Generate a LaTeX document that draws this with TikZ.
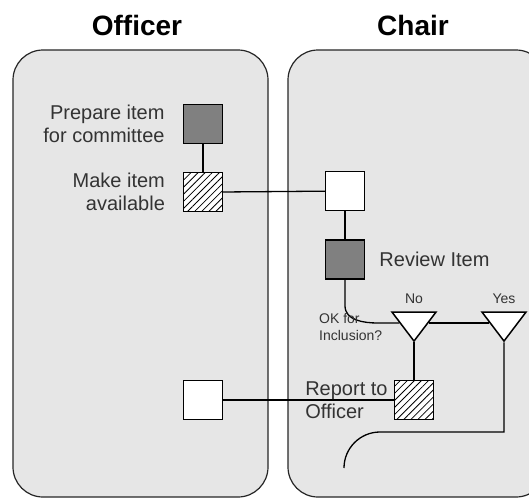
\documentclass[tikz,border=0pt]{standalone}
\usepackage{fontspec}
\setmainfont{Liberation Sans}
\usetikzlibrary{positioning,shapes.geometric,patterns.meta}
\definecolor{lanefill}{HTML}{E6E6E6}
\definecolor{taskfill}{HTML}{808080}
\definecolor{textgrey}{HTML}{333333}
\pgfdeclarelayer{lanes}
\pgfdeclarelayer{links}
\pgfsetlayers{lanes,links,main}

\begin{document}
\begin{tikzpicture}[
    x=1pt, y=1pt,
    lane/.style={draw=black!85, line width=1.2pt, fill=lanefill, rounded corners=30pt},
    title/.style={font=\bfseries\fontsize{28}{30}\selectfont, inner sep=0pt},
    box/.style={draw, line width=1.5pt, minimum size=39pt, inner sep=0pt, fill=white},
    task/.style={box, fill=taskfill},
    hatched/.style={box, preaction={fill=white}, pattern={Lines[angle=45,distance=5pt,line width=0.8pt]}},
    decision/.style={draw, line width=1.5pt, fill=white, isosceles triangle, isosceles triangle apex angle=75,
        isosceles triangle stretches, shape border rotate=270, minimum width=44pt, minimum height=29pt, inner sep=0pt},
    label/.style={text=textgrey, inner sep=0pt, font=\fontsize{20}{23}\selectfont},
    small/.style={text=textgrey, inner sep=0pt, font=\fontsize{14}{17}\selectfont},
    link/.style={line width=1.3pt}
]
\useasboundingbox (0,0) rectangle (529,-498);

% swim lanes
\begin{pgfonlayer}{lanes}
\draw[lane] (13,-50) rectangle (268,-497);
\draw[lane] (288,-50) rectangle (546,-497);
\end{pgfonlayer}
\node[title] (officer) at (137,-25) {Officer};
\node[title] (chair) at (413,-25) {Chair};

% officer lane
\node[task] (prep) at (203,-124) {};
\node[hatched, below=28pt of prep] (avail) {};
\node[box] (notify) at (203,-400) {};
\node[label, align=right, left=18pt of prep] {Prepare item\\for committee};
\node[label, align=right, left=18pt of avail] {Make item\\available};

% chair lane
\node[box] (receive) at (345,-191) {};
\node[task, below=28pt of receive] (review) {};
\node[label, right=14pt of review] {Review Item};
\node[decision] (no) at (414,-323) {};
\node[decision] (yes) at (504,-323) {};
\node[small, above=7pt of no] {No};
\node[small, above=7pt of yes] {Yes};
\node[small, align=left, anchor=west] (ok) at (319,-327) {OK for\\Inclusion?};
\node[hatched] (report) at (414,-400) {};
\node[label, align=left, left=6pt of report] {Report to\\Officer};

% connectors
\begin{pgfonlayer}{links}
\draw[link] (prep) -- (avail);
\draw[link] (avail) -- (receive);
\draw[link] (receive) -- (review);
\draw[link] (review.south) -- ++(0,-26) to[out=-90, in=180] ([xshift=-36pt]no.center) -- (no);
\draw[link] (no) -- (yes);
\draw[link] (no) -- (report);
\draw[link] (report) -- (notify);
\draw[link] (yes) |- (380,-432) arc[start angle=90, end angle=180, radius=36pt];
\end{pgfonlayer}
\end{tikzpicture}
\end{document}
